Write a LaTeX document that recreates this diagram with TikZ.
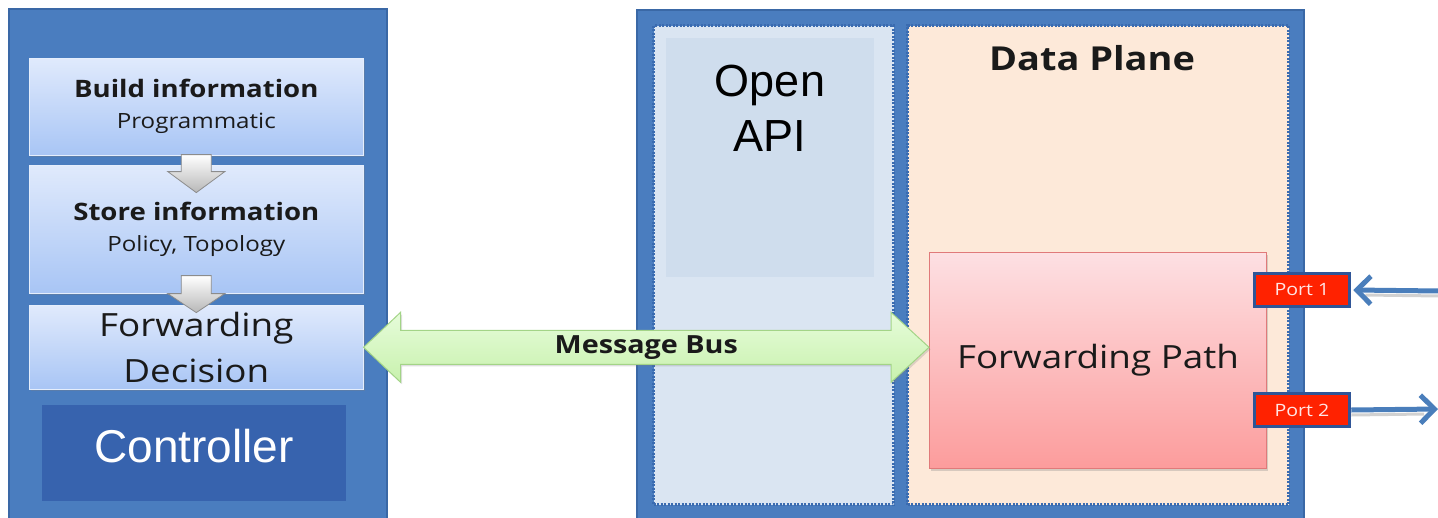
\documentclass[tikz,border=0pt]{standalone}
\usepackage{fontspec}
\setmainfont{Open Sans}
\newfontfamily\widefont[FakeStretch=1.15]{Open Sans}
\newfontfamily\arialfont{Liberation Sans}
\usetikzlibrary{calc,shadows,arrows.meta}

\definecolor{frameblue}{HTML}{4A7DBF}
\definecolor{frameedge}{HTML}{3A68A6}
\definecolor{ctlblue}{HTML}{3763AE}
\definecolor{infotop}{HTML}{E0EAFC}
\definecolor{infobot}{HTML}{A8C5F5}
\definecolor{apifill}{HTML}{DAE5F2}
\definecolor{apiinner}{HTML}{CFDDED}
\definecolor{dpfill}{HTML}{FDE9D9}
\definecolor{dotblue}{HTML}{3A6BB0}
\definecolor{fptop}{HTML}{FDE0E3}
\definecolor{fpbot}{HTML}{FC9C9C}
\definecolor{fpedge}{HTML}{E07A7A}
\definecolor{portred}{HTML}{FF2200}
\definecolor{portedge}{HTML}{2F5597}
\definecolor{bustop}{HTML}{E6FCDA}
\definecolor{busbot}{HTML}{C8F1AD}
\definecolor{busedge}{HTML}{A3D487}
\definecolor{linkblue}{HTML}{4A7EBB}
\definecolor{inktext}{HTML}{1A1A1A}

\tikzset{
  frame/.style={rectangle, anchor=north west, fill=frameblue, draw=frameedge, line width=1.5pt, inner sep=0pt},
  infobox/.style={rectangle, anchor=north west, minimum width=334pt, inner sep=0pt,
    top color=infotop, bottom color=infobot, draw=white!70!infobot, line width=0.6pt,
    align=center, text=inktext,
    drop shadow={opacity=0.3, shadow xshift=1.5pt, shadow yshift=-2pt}},
  panel/.style={rectangle, anchor=north west, draw=dotblue, line width=3pt,
    dash pattern=on 2pt off 1.5pt, inner sep=0pt},
  greyarrow/.style={draw=black!45, line width=0.8pt, top color=white, bottom color=black!28},
  busarrow/.style={draw=busedge, line width=1pt, top color=bustop, bottom color=busbot,
    drop shadow={opacity=0.25, shadow xshift=1.5pt, shadow yshift=-2pt}},
  portbox/.style={rectangle, fill=portred, draw=portedge, line width=3.5pt,
    minimum width=95pt, minimum height=33pt, inner sep=0pt, text=white!90!red,
    font=\widefont\fontsize{17}{19}\selectfont},
  link/.style={draw=linkblue, line width=5pt, -{Straight Barb[length=14pt,width=28pt]}},
  linkshade/.style={draw=black!18, line width=3pt},
}

\begin{document}
\begin{tikzpicture}[x=1pt,y=-1pt]
\useasboundingbox (0,0) rectangle (1438,517);
\clip (0,0) rectangle (1438,517);

% ---------------- controller side ----------------
\node[frame, minimum width=378pt, minimum height=512pt] (ctl) at (8,8) {};

\node[infobox, minimum height=97pt, font=\widefont\fontsize{24}{31}\selectfont\bfseries]
  (build) at (29,58)
  {Build information\\ {\fontsize{21}{31}\selectfont\mdseries Programmatic}};
\node[infobox, minimum height=128pt, font=\widefont\fontsize{24}{31}\selectfont\bfseries]
  (store) at (29,165)
  {Store information\\ {\fontsize{21}{31}\selectfont\mdseries Policy, Topology}};
\node[infobox, minimum height=84pt, font=\widefont\fontsize{32}{46}\selectfont]
  (fd) at (29,305) {Forwarding\\Decision};

% block arrows between the steps
\draw[greyarrow] ($(build.south)+(-15,-1)$) -- ++(30,0) -- ++(0,17) -- ++(13.5,0)
  -- ($(build.south)+(0,37)$) -- ($(build.south)+(-28.5,16)$) -- ++(13.5,0) -- cycle;
\draw[greyarrow] ($(store.south)+(-15,-18)$) -- ++(30,0) -- ++(0,18) -- ++(13.5,0)
  -- ($(store.south)+(0,19)$) -- ($(store.south)+(-28.5,0)$) -- ++(13.5,0) -- cycle;

\node[rectangle, anchor=north west, fill=ctlblue, minimum width=304pt, minimum height=96pt,
  inner sep=0pt, text=white, text depth=14pt, font=\arialfont\fontsize{46}{50}\selectfont]
  (ctllabel) at (42,405) {Controller};

% ---------------- switch side ----------------
\node[frame, minimum width=667pt, minimum height=512pt] (sw) at (636,9) {};

\node[panel, fill=apifill, minimum width=240pt, minimum height=479pt] (api) at (652,24) {};
\node[rectangle, anchor=north west, fill=apiinner, minimum width=208pt, minimum height=239pt,
  inner sep=0pt] (apibox) at (666,38) {};
\node[anchor=north, align=center, inner sep=0pt, font=\arialfont\fontsize{45}{55}\selectfont]
  (apitext) at (770,65) {Open\\API};

\node[panel, fill=dpfill, minimum width=381pt, minimum height=479pt] (dp) at (906,24) {};
\node[anchor=north, inner sep=0pt, text=inktext, font=\widefont\fontsize{33}{40}\selectfont\bfseries]
  (dptext) at (1092,45) {Data Plane};

\node[rectangle, anchor=north west, minimum width=337pt, minimum height=216pt, inner sep=0pt,
  top color=fptop, bottom color=fpbot, draw=fpedge, line width=1pt, text=inktext,
  font=\widefont\fontsize{32}{36}\selectfont,
  drop shadow={opacity=0.3, shadow xshift=1.5pt, shadow yshift=-2pt}]
  (fp) at (929,252) {Forwarding Path};

\node[portbox] (port1) at (1302,290) {Port 1};
\node[portbox] (port2) at (1302,410) {Port 2};

% external links
\coordinate (in1) at (1440,291);
\coordinate (out2) at (1440,409);
\draw[linkshade] ([yshift=-5pt]in1) -- ([xshift=14pt,yshift=-5pt]port1.east);
\draw[linkshade] ([yshift=-5pt]port2.east) -- ([xshift=-16pt,yshift=-5pt]out2);
\draw[link] (in1) -- ([xshift=2pt]port1.east);
\draw[link] (port2.east) -- ([xshift=-2pt]out2);

% message bus between controller and forwarding path
\coordinate (busL) at (fd.east);
\coordinate (busR) at (fp.west |- busL);
\draw[busarrow] (busL) -- ($(busL)+(37,-35)$) -- ($(busL)+(37,-17)$)
  -- ($(busR)+(-38,-17)$) -- ($(busR)+(-38,-35)$) -- (busR)
  -- ($(busR)+(-38,35)$) -- ($(busR)+(-38,17)$)
  -- ($(busL)+(37,17)$) -- ($(busL)+(37,35)$) -- cycle;
\node[font=\widefont\fontsize{25}{28}\selectfont\bfseries, text=inktext, inner sep=0pt]
  (bus) at ($(busL)!0.5!(busR)$) {Message Bus};

\end{tikzpicture}
\end{document}
